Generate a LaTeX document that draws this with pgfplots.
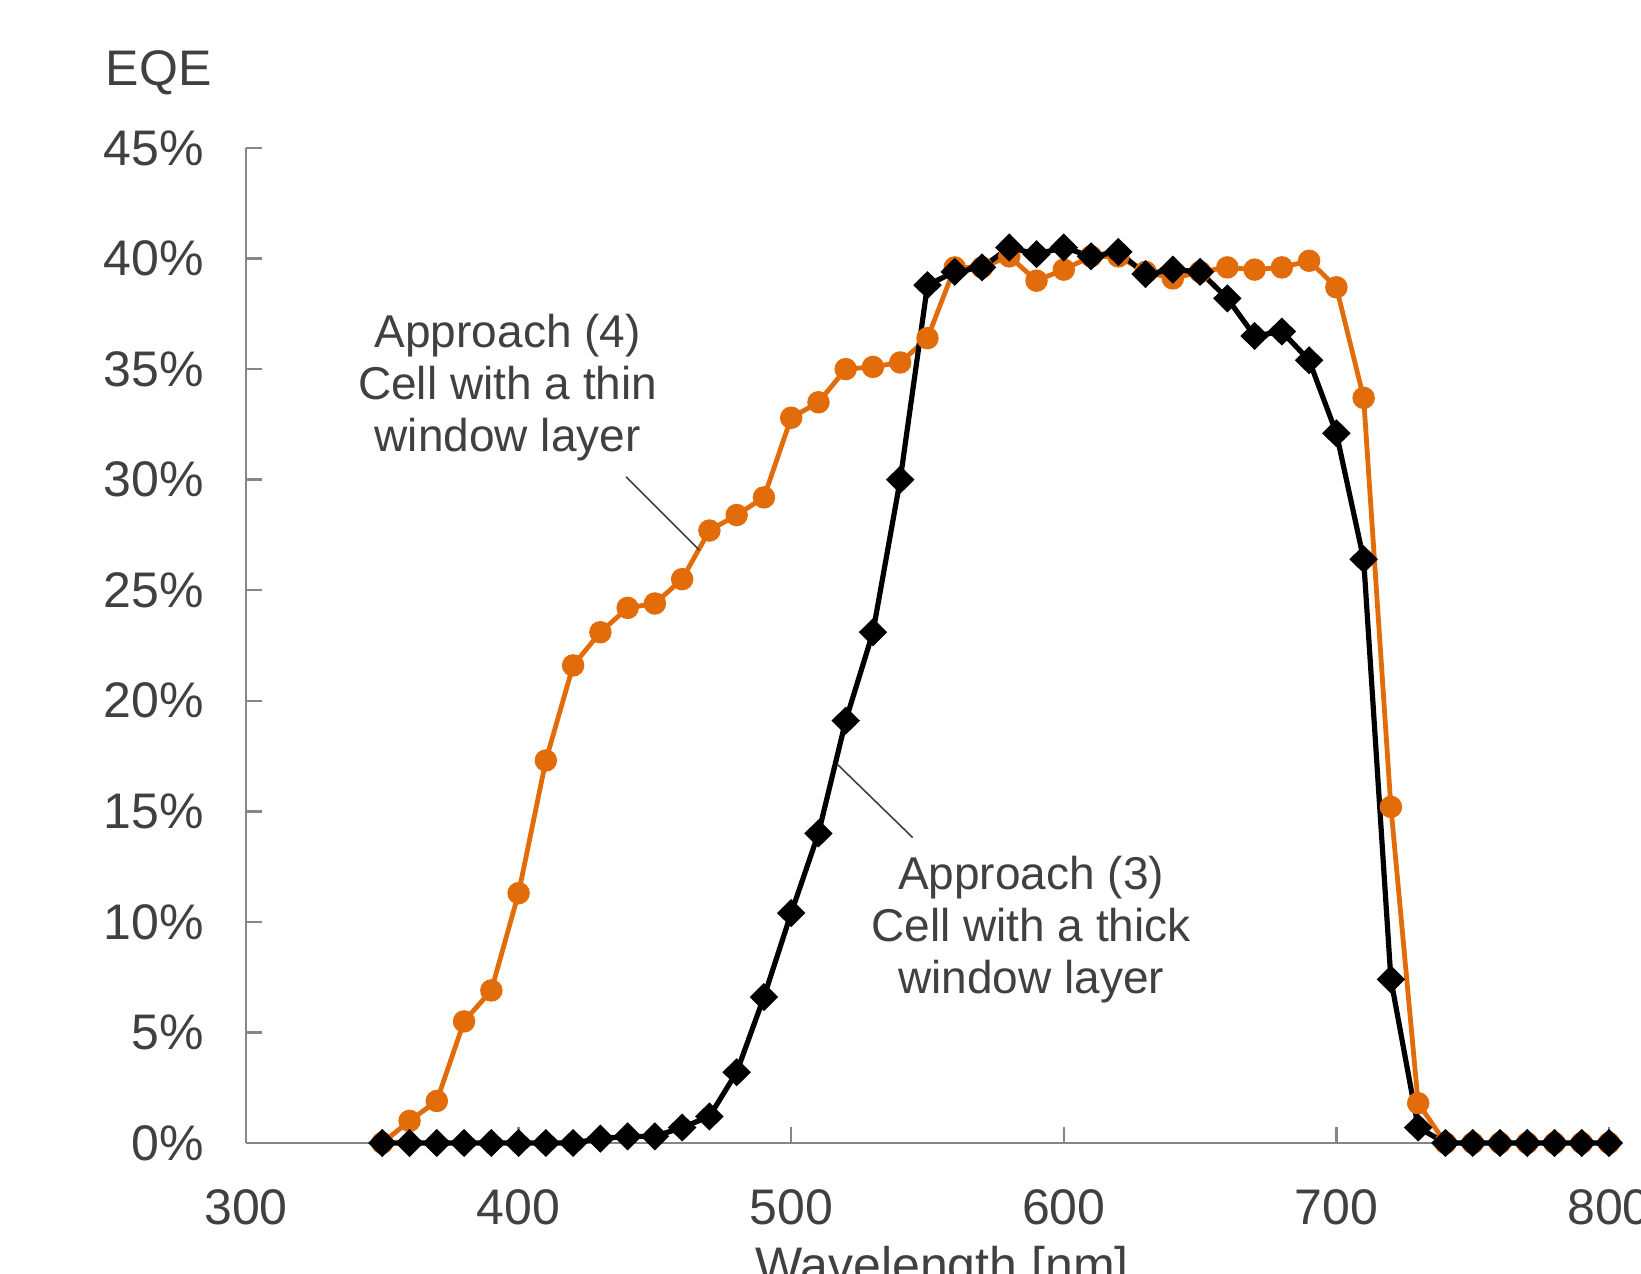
\documentclass[border=0pt]{standalone}
\usepackage{pgfplots}
\pgfplotsset{compat=1.18}
\usepackage{fontspec}
\setmainfont{Liberation Sans}
\definecolor{ora}{HTML}{E36C0A}
\definecolor{txt}{HTML}{404040}
\definecolor{axg}{HTML}{868686}
\begin{document}
\begin{tikzpicture}
\begin{axis}[
 scale only axis, width=340.75pt, height=248.75pt,
 xmin=300, xmax=800, ymin=0, ymax=45,
 axis x line*=bottom, axis y line*=left,
 axis line style={axg, line width=0.6pt, -},
 tick style={axg, line width=0.6pt},
 major tick length=4pt, tick align=inside,
 xtick={300,400,...,800}, ytick={0,5,...,45},
 /pgf/number format/assume math mode=true,
 /pgf/number format/1000 sep={},
 yticklabel={\pgfmathprintnumber{\tick}\%},
 ticklabel style={font=\fontsize{12.5}{14}\selectfont, text=txt},
 yticklabel style={xshift=-7pt},
 xticklabel style={yshift=-8pt},
 clip=false,
]
\addplot[ora, line width=1.2pt, mark=*, mark size=2.2pt, mark options={fill=ora, draw=ora}] coordinates {
(350,0) (360,1.0) (370,1.9) (380,5.5) (390,6.9) (400,11.3) (410,17.3) (420,21.6)
(430,23.1) (440,24.2) (450,24.4) (460,25.5) (470,27.7) (480,28.4) (490,29.2)
(500,32.8) (510,33.5) (520,35.0) (530,35.1) (540,35.3) (550,36.4) (560,39.6)
(570,39.6) (580,40.1) (590,39.0) (600,39.5) (610,40.1) (620,40.1) (630,39.4)
(640,39.1) (650,39.4) (660,39.6) (670,39.5) (680,39.6) (690,39.9) (700,38.7)
(710,33.7) (720,15.2) (730,1.8) (740,0) (750,0) (760,0) (770,0) (780,0) (790,0) (800,0)
};
\addplot[black, line width=1.3pt, mark=diamond*, mark size=2.6pt, mark options={xscale=1.35, fill=black, draw=black}] coordinates {
(350,0) (360,0) (370,0) (380,0) (390,0) (400,0) (410,0) (420,0)
(430,0.2) (440,0.3) (450,0.3) (460,0.7) (470,1.2) (480,3.2) (490,6.6)
(500,10.4) (510,14.0) (520,19.1) (530,23.1) (540,30.0) (550,38.8) (560,39.4)
(570,39.6) (580,40.5) (590,40.2) (600,40.5) (610,40.1) (620,40.3) (630,39.3)
(640,39.5) (650,39.4) (660,38.2) (670,36.5) (680,36.7) (690,35.4) (700,32.1)
(710,26.4) (720,7.4) (730,0.7) (740,0) (750,0) (760,0) (770,0) (780,0) (790,0) (800,0)
};
\draw[black!75, line width=0.4pt] (axis cs:439.4,30.13) -- (axis cs:466.3,26.82);
\draw[black!75, line width=0.4pt] (axis cs:517.0,17.12) -- (axis cs:544.6,13.81);
\node[align=center, text=txt, font=\fontsize{11.5}{13}\selectfont] at (axis cs:396,34.15) {Approach (4)\\Cell with a thin\\window layer};
\node[align=center, text=txt, font=\fontsize{11.5}{13}\selectfont] at (axis cs:588,9.65) {Approach (3)\\Cell with a thick\\window layer};
\end{axis}
\node[anchor=west, text=txt, font=\fontsize{12.5}{14}\selectfont, inner sep=0pt] at (-35.25pt,267.5pt) {EQE};
\node[anchor=base, text=txt, font=\fontsize{12.5}{14}\selectfont, inner sep=0pt] at (174pt,-35pt) {Wavelength [nm]};
\pgfresetboundingbox
\path[use as bounding box] (-61.5pt,-32.75pt) rectangle (348.75pt,285.75pt);
\end{tikzpicture}
\end{document}
